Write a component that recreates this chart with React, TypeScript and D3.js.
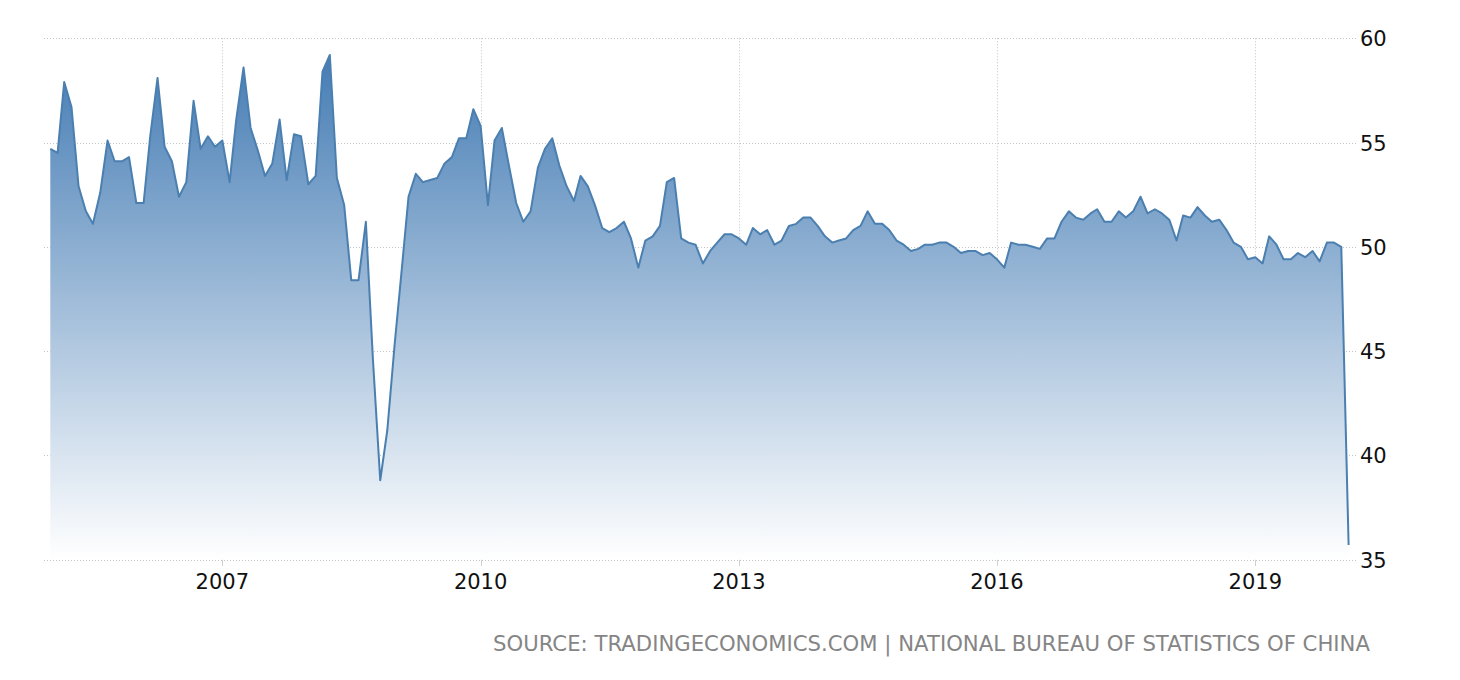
import React from "react";
import * as d3 from "d3";

// China NBS Manufacturing PMI, monthly, Jan 2005 – Feb 2020
const pmi2005 = [54.7, 54.5, 57.9, 56.7, 52.9, 51.7, 51.1, 52.6, 55.1, 54.1, 54.1, 54.3];
const pmi2006 = [52.1, 52.1, 55.3, 58.1, 54.8, 54.1, 52.4, 53.1, 57.0, 54.7, 55.3, 54.8];
const pmi2007 = [55.1, 53.1, 56.1, 58.6, 55.7, 54.6, 53.4, 54.0, 56.1, 53.2, 55.4, 55.3];
const pmi2008 = [53.0, 53.4, 58.4, 59.2, 53.3, 52.0, 48.4, 48.4, 51.2, 44.6, 38.8, 41.2];
const pmi2009 = [45.3, 49.0, 52.4, 53.5, 53.1, 53.2, 53.3, 54.0, 54.3, 55.2, 55.2, 56.6];
const pmi2010 = [55.8, 52.0, 55.1, 55.7, 53.9, 52.1, 51.2, 51.7, 53.8, 54.7, 55.2, 53.9];
const pmi2011 = [52.9, 52.2, 53.4, 52.9, 52.0, 50.9, 50.7, 50.9, 51.2, 50.4, 49.0, 50.3];
const pmi2012 = [50.5, 51.0, 53.1, 53.3, 50.4, 50.2, 50.1, 49.2, 49.8, 50.2, 50.6, 50.6];
const pmi2013 = [50.4, 50.1, 50.9, 50.6, 50.8, 50.1, 50.3, 51.0, 51.1, 51.4, 51.4, 51.0];
const pmi2014 = [50.5, 50.2, 50.3, 50.4, 50.8, 51.0, 51.7, 51.1, 51.1, 50.8, 50.3, 50.1];
const pmi2015 = [49.8, 49.9, 50.1, 50.1, 50.2, 50.2, 50.0, 49.7, 49.8, 49.8, 49.6, 49.7];
const pmi2016 = [49.4, 49.0, 50.2, 50.1, 50.1, 50.0, 49.9, 50.4, 50.4, 51.2, 51.7, 51.4];
const pmi2017 = [51.3, 51.6, 51.8, 51.2, 51.2, 51.7, 51.4, 51.7, 52.4, 51.6, 51.8, 51.6];
const pmi2018 = [51.3, 50.3, 51.5, 51.4, 51.9, 51.5, 51.2, 51.3, 50.8, 50.2, 50.0, 49.4];
const pmi2019 = [49.5, 49.2, 50.5, 50.1, 49.4, 49.4, 49.7, 49.5, 49.8, 49.3, 50.2, 50.2];
const pmi2020 = [50.0, 35.7];

const dataYears = [2005, 2006, 2007, 2008, 2009, 2010, 2011, 2012, 2013, 2014, 2015, 2016, 2017, 2018, 2019, 2020];
const yearlyValues = [pmi2005, pmi2006, pmi2007, pmi2008, pmi2009, pmi2010, pmi2011, pmi2012, pmi2013, pmi2014, pmi2015, pmi2016, pmi2017, pmi2018, pmi2019, pmi2020];

const xTickYears = [2007, 2010, 2013, 2016, 2019];
const yTicks = [35, 40, 45, 50, 55, 60];
const sourceText = "SOURCE: TRADINGECONOMICS.COM | NATIONAL BUREAU OF STATISTICS OF CHINA";

type Pt = { date: Date; value: number };
const points: Pt[] = [];
dataYears.forEach((yr, i) => {
  yearlyValues[i].forEach((v, m) => points.push({ date: new Date(Date.UTC(yr, m, 1)), value: v }));
});

const W = 1460;
const H = 680;
const plotLeft = 44;
const plotRight = 1356;
const yTop = 38.3;
const yBottom = 559.5;

export default function App() {
  const x = d3
    .scaleUtc()
    .domain([new Date(Date.UTC(2005, 0, 1)), new Date(Date.UTC(2020, 1, 1))])
    .range([50.3, 1348.6]);
  const y = d3.scaleLinear().domain([35, 60]).range([yBottom, yTop]);

  const area = d3
    .area<Pt>()
    .x((d) => x(d.date))
    .y0(yBottom)
    .y1((d) => y(d.value));
  const line = d3
    .line<Pt>()
    .x((d) => x(d.date))
    .y((d) => y(d.value));

  const font = "'DejaVu Sans', Verdana, sans-serif";

  return (
    <div style={{ position: "absolute", left: 0, top: 0, width: W, height: H, overflow: "hidden", background: "#fff" }}>
      <svg width={W} height={H} style={{ display: "block" }}>
        <defs>
          <linearGradient id="fillGrad" gradientUnits="userSpaceOnUse" x1={0} y1={yTop} x2={0} y2={yBottom}>
            <stop offset="0%" stopColor="#3f78b2" />
            <stop offset="100%" stopColor="#ffffff" />
          </linearGradient>
        </defs>

        {/* horizontal grid */}
        {yTicks.map((t) => (
          <line
            key={"h" + t}
            x1={plotLeft}
            x2={plotRight}
            y1={Math.round(y(t)) + 0.5}
            y2={Math.round(y(t)) + 0.5}
            stroke="#c4c4c4"
            strokeWidth={1}
            strokeDasharray="1,2"
          />
        ))}
        {/* vertical grid */}
        {xTickYears.map((yr) => {
          const xx = Math.round(x(new Date(Date.UTC(yr, 0, 1)))) + 0.5;
          return (
            <g key={"v" + yr}>
              <line x1={xx} x2={xx} y1={yTop} y2={yBottom} stroke="#c4c4c4" strokeWidth={1} strokeDasharray="1,2" />
              <line x1={xx} x2={xx} y1={yBottom} y2={566} stroke="#d0d0d0" strokeWidth={1} />
            </g>
          );
        })}

        <path d={area(points) || ""} fill="url(#fillGrad)" />
        <path d={line(points) || ""} fill="none" stroke="#4a7fb0" strokeWidth={2} strokeLinejoin="round" />

        {/* y labels */}
        {yTicks.map((t) => (
          <text key={"yl" + t} x={1360} y={y(t) + 8} fontFamily={font} fontSize={21} fill="#111">
            {t}
          </text>
        ))}
        {/* x labels */}
        {xTickYears.map((yr) => (
          <text
            key={"xl" + yr}
            x={x(new Date(Date.UTC(yr, 0, 1)))}
            y={589}
            textAnchor="middle"
            fontFamily={font}
            fontSize={21}
            fill="#111"
          >
            {yr}
          </text>
        ))}

        <text
          x={493}
          y={651}
          fontFamily={font}
          fontSize={21}
          fill="#858585"
          textLength={877}
          lengthAdjust="spacingAndGlyphs"
        >
          {sourceText}
        </text>
      </svg>
    </div>
  );
}
